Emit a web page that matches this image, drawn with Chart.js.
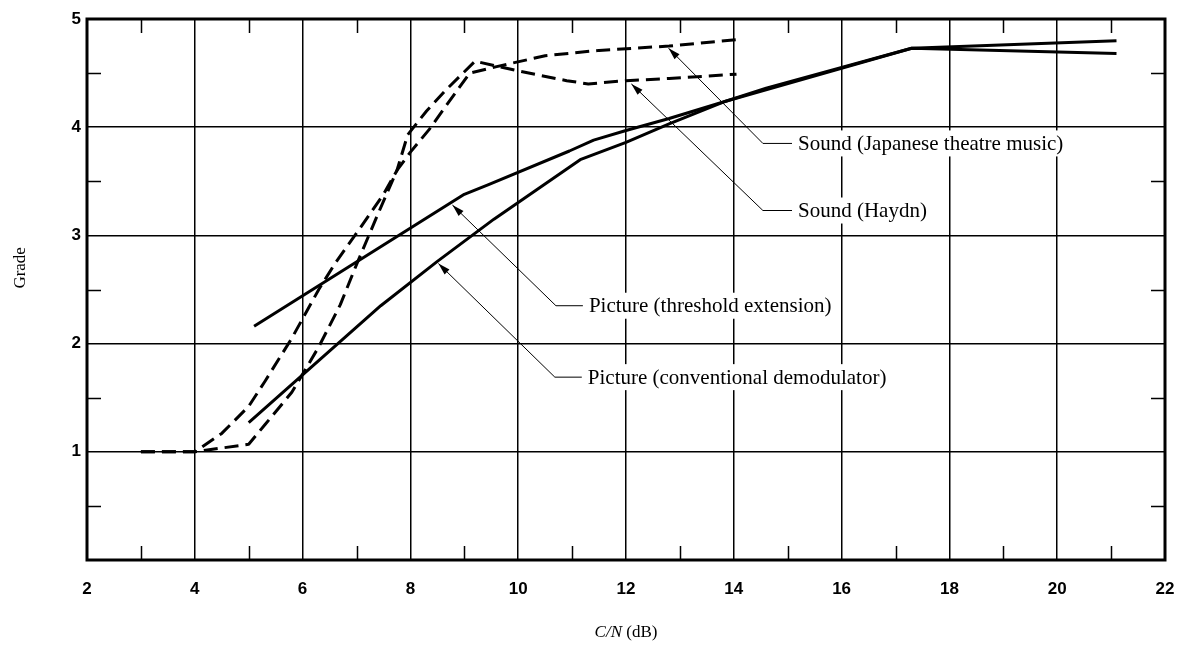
<!DOCTYPE html>
<html>
<head>
<meta charset="utf-8">
<script src="https://cdn.jsdelivr.net/npm/chart.js@4.4.1/dist/chart.umd.min.js"></script>
<style>
  html, body { margin: 0; padding: 0; background: #fff; }
</style>
</head>
<body>
<canvas id="gradeChart" width="1181" height="646"></canvas>
<script>
// Ejes
const xMinorTicks = [3, 5, 7, 9, 11, 13, 15, 17, 19, 21];
const yMinorTicks = [0.5, 1.5, 2.5, 3.5, 4.5];

// Picture (conventional demodulator)
const convCN    = [5.0, 7.45, 8.5, 9.55, 11.15, 12.0, 12.8, 13.85, 17.3, 21.1];
const convGrade = [1.27, 2.35, 2.76, 3.15, 3.70, 3.86, 4.03, 4.24, 4.73, 4.68];

// Picture (threshold extension)
const threshCN    = [5.1, 9.0, 9.45, 10.95, 11.4, 12.0, 12.8, 13.85, 14.6, 17.3, 21.1];
const threshGrade = [2.16, 3.38, 3.47, 3.78, 3.88, 3.97, 4.08, 4.24, 4.36, 4.73, 4.80];

// Sound (Haydn)
const haydnCN    = [3, 4, 4.5, 5, 5.3, 5.8, 6.3, 6.6, 7.0, 7.5, 7.75, 7.95, 8.3, 8.65, 9.2, 10, 10.9, 11.3, 12, 12.8, 14.05];
const haydnGrade = [1, 1, 1.17, 1.42, 1.65, 2.05, 2.5, 2.74, 3.02, 3.38, 3.6, 3.93, 4.15, 4.34, 4.61, 4.52, 4.43, 4.40, 4.43, 4.45, 4.49];

// Sound (Japanese theatre music)
const japCN    = [3, 4, 5, 5.3, 5.8, 6.3, 6.7, 7.0, 7.4, 7.75, 8.0, 8.35, 8.65, 9.1, 9.6, 10.5, 11.5, 12.8, 14.05];
const japGrade = [1, 1, 1.07, 1.25, 1.55, 1.97, 2.36, 2.73, 3.2, 3.6, 3.77, 3.98, 4.19, 4.50, 4.56, 4.66, 4.71, 4.75, 4.81];

// Rótulos con flecha
const calloutText = [
    'Sound (Japanese theatre music)',
    'Sound (Haydn)',
    'Picture (threshold extension)',
    'Picture (conventional demodulator)'
];
const calloutTipCN      = [12.79, 12.1, 8.78, 8.52];
const calloutTipGrade   = [4.73, 4.40, 3.28, 2.74];
const calloutElbowCN    = [14.54, 14.54, 10.7, 10.68];
const calloutElbowGrade = [3.85, 3.23, 2.35, 1.69];
const calloutEndCN      = [15.08, 15.08, 11.2, 11.18];

const toPoints = (xs, ys) => xs.map((x, i) => ({ x: x, y: ys[i] }));

const tickFont = { family: '"Liberation Sans", Arial, sans-serif', size: 17, weight: 'bold' };

// Marco, marcas menores, flechas y títulos de ejes
const figureDecor = {
    id: 'figureDecor',
    beforeDatasetsDraw(chart) {
        const { ctx, chartArea: a, scales: { x, y } } = chart;
        const tickLen = 14;
        ctx.save();
        ctx.strokeStyle = '#000';
        ctx.lineWidth = 1.5;
        xMinorTicks.forEach(v => {
            const px = Math.round(x.getPixelForValue(v)) + 0.5;
            ctx.beginPath();
            ctx.moveTo(px, a.bottom); ctx.lineTo(px, a.bottom - tickLen);
            ctx.moveTo(px, a.top); ctx.lineTo(px, a.top + tickLen);
            ctx.stroke();
        });
        yMinorTicks.forEach(v => {
            const py = Math.round(y.getPixelForValue(v)) + 0.5;
            ctx.beginPath();
            ctx.moveTo(a.left, py); ctx.lineTo(a.left + tickLen, py);
            ctx.moveTo(a.right, py); ctx.lineTo(a.right - tickLen, py);
            ctx.stroke();
        });
        ctx.lineWidth = 3;
        ctx.strokeRect(a.left, a.top, a.right - a.left, a.bottom - a.top);
        ctx.restore();
    },
    afterDatasetsDraw(chart) {
        const { ctx, scales: { x, y } } = chart;
        ctx.save();
        ctx.font = '21px "Liberation Serif", "Times New Roman", serif';
        ctx.textBaseline = 'middle';
        calloutText.forEach((label, i) => {
            const tx = x.getPixelForValue(calloutTipCN[i]);
            const ty = y.getPixelForValue(calloutTipGrade[i]);
            const ex = x.getPixelForValue(calloutElbowCN[i]);
            const ey = y.getPixelForValue(calloutElbowGrade[i]);
            const sx = x.getPixelForValue(calloutEndCN[i]);

            // fondo blanco detrás del texto
            const w = ctx.measureText(label).width;
            ctx.fillStyle = '#fff';
            ctx.fillRect(sx + 4, ey - 13, w + 6, 26);

            ctx.strokeStyle = '#000';
            ctx.lineWidth = 1;
            ctx.beginPath();
            ctx.moveTo(tx, ty);
            ctx.lineTo(ex, ey);
            ctx.lineTo(sx, ey);
            ctx.stroke();

            // punta de flecha
            const ang = Math.atan2(ty - ey, tx - ex);
            const len = 12, half = 3.5;
            ctx.fillStyle = '#000';
            ctx.beginPath();
            ctx.moveTo(tx, ty);
            ctx.lineTo(tx - len * Math.cos(ang) + half * Math.sin(ang), ty - len * Math.sin(ang) - half * Math.cos(ang));
            ctx.lineTo(tx - len * Math.cos(ang) - half * Math.sin(ang), ty - len * Math.sin(ang) + half * Math.cos(ang));
            ctx.closePath();
            ctx.fill();

            ctx.fillText(label, sx + 6, ey + 1);
        });
        ctx.restore();
    },
    afterDraw(chart) {
        const { ctx, chartArea: a, scales: { y } } = chart;
        ctx.save();
        ctx.fillStyle = '#000';
        ctx.textBaseline = 'middle';

        // título eje x: C/N en cursiva
        const italic = 'italic 17px "Liberation Serif", serif';
        const roman = '17px "Liberation Serif", serif';
        ctx.font = italic;
        const w1 = ctx.measureText('C/N').width;
        ctx.font = roman;
        const w2 = ctx.measureText(' (dB)').width;
        let sx = (a.left + a.right) / 2 - (w1 + w2) / 2;
        ctx.font = italic;
        ctx.fillText('C/N', sx, a.bottom + 73);
        ctx.font = roman;
        ctx.fillText(' (dB)', sx + w1, a.bottom + 73);

        // título eje y
        ctx.translate(21, y.getPixelForValue(2.7));
        ctx.rotate(-Math.PI / 2);
        ctx.textAlign = 'center';
        ctx.font = '17px "Liberation Serif", serif';
        ctx.fillText('Grade', 0, 0);
        ctx.restore();
    }
};

const lineStyle = {
    borderColor: '#000',
    borderWidth: 3,
    pointRadius: 0,
    tension: 0,
    fill: false,
    borderJoinStyle: 'round'
};

const ctx = document.getElementById('gradeChart');
new Chart(ctx, {
    type: 'line',
    data: {
        datasets: [
            Object.assign({ label: 'Picture (conventional demodulator)', data: toPoints(convCN, convGrade) }, lineStyle),
            Object.assign({ label: 'Picture (threshold extension)', data: toPoints(threshCN, threshGrade) }, lineStyle),
            Object.assign({ label: 'Sound (Haydn)', data: toPoints(haydnCN, haydnGrade), borderDash: [14, 7] }, lineStyle),
            Object.assign({ label: 'Sound (Japanese theatre music)', data: toPoints(japCN, japGrade), borderDash: [14, 7] }, lineStyle)
        ]
    },
    options: {
        responsive: false,
        animation: false,
        layout: { padding: { left: 0, right: 16, top: 19, bottom: 0 } },
        plugins: {
            legend: { display: false },
            tooltip: { enabled: false }
        },
        scales: {
            x: {
                type: 'linear',
                min: 2,
                max: 22,
                ticks: { stepSize: 2, color: '#000', font: tickFont, padding: 19 },
                grid: { color: '#000', lineWidth: 1.5, drawTicks: false },
                border: { display: false },
                afterFit: scale => {
                    scale.height = 86;
                    scale.paddingLeft = 0;
                    scale.paddingRight = 0;
                }
            },
            y: {
                min: 0,
                max: 5,
                ticks: {
                    stepSize: 1,
                    color: '#000',
                    font: tickFont,
                    padding: 6,
                    callback: v => (v === 0 ? '' : v)
                },
                grid: { color: '#000', lineWidth: 1.5, drawTicks: false },
                border: { display: false },
                afterFit: scale => {
                    scale.width = 87;
                    scale.paddingTop = 0;
                    scale.paddingBottom = 0;
                }
            }
        }
    },
    plugins: [figureDecor]
});
</script>
</body>
</html>
